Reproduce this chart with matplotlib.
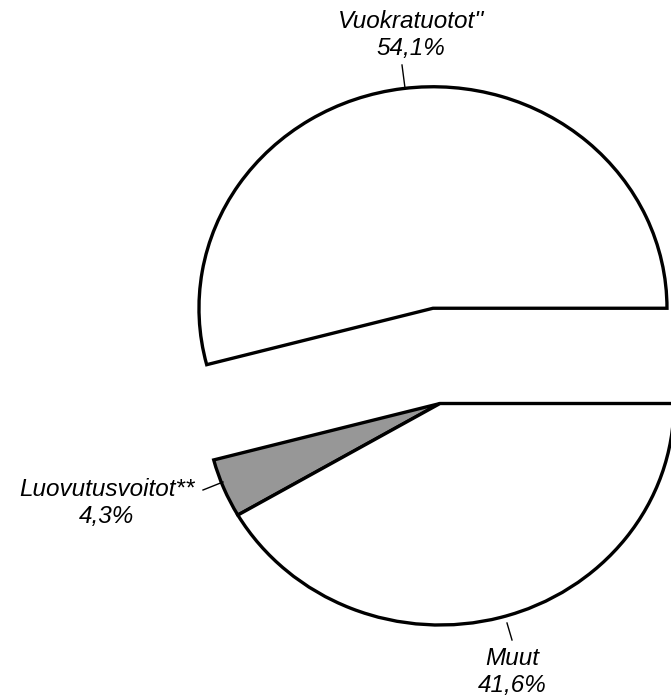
import numpy as np
import matplotlib
matplotlib.use("Agg")
import matplotlib.pyplot as plt

# osuudet, %
labels = ["Vuokratuotot''", "Luovutusvoitot**", "Muut"]
values = [54.1, 4.3, 41.6]
value_texts = ["54,1%", "4,3%", "41,6%"]
colors = ["white", "#979797", "white"]

W, H = 671, 699
# pikselit -> data (pie radius = 1)
cx, cy = 440.0, 403.5
rx, ry = 234.0, 221.5


def px(x, y):
    return (x - cx) / rx, (cy - y) / ry


fig = plt.figure(figsize=(W / 100, H / 100), dpi=100)
ax = fig.add_axes([0, 0, 1, 1])

wedges, _ = ax.pie(values, colors=colors, startangle=0,
                   counterclock=True, radius=1.0,
                   wedgeprops=dict(edgecolor="black", linewidth=2.4))
# vuokratuotot irrotettu ylospain
wedges[0].set_center((-0.03, 0.43))
ax.set_aspect("auto")
x0, y0 = px(0, H)
x1, y1 = px(W, 0)
ax.set_xlim(x0, x1)
ax.set_ylim(y0, y1)
ax.axis("off")

# tekstit ja viivat
text_pos = [(411, 35), (107, 503), (512, 672)]
line_pos = [((402, 65), (405, 88)), ((203, 490), (223, 482)), ((512, 640), (507, 623))]

for lab, val, tp, lp in zip(labels, value_texts, text_pos, line_pos):
    ax.text(*px(*tp), lab + "\n" + val, ha="center", va="center",
            fontsize=17.5, style="italic", family="Liberation Sans",
            linespacing=1.2)
    (a, b) = lp
    xa, ya = px(*a)
    xb, yb = px(*b)
    ax.plot([xa, xb], [ya, yb], color="black", linewidth=1.0)

fig.savefig("out.png", dpi=100)
